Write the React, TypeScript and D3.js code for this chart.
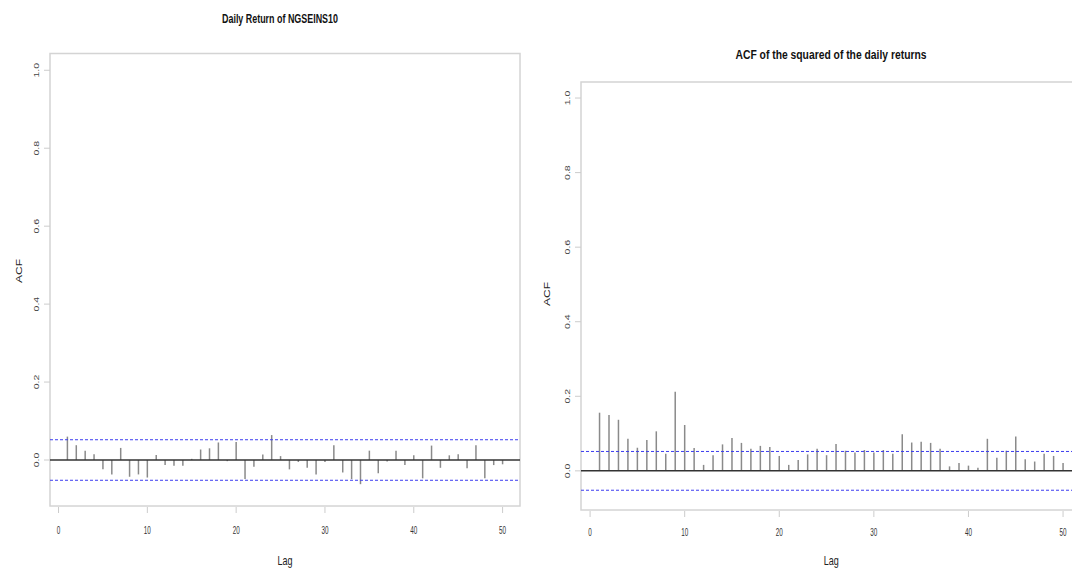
import React from "react";
import * as d3 from "d3";

// lags 1..50 (lag 0 dropped)
const lags = d3.range(1, 51);

const returnsAcf = [
  0.06, 0.038, 0.024, 0.015, -0.024, -0.037, 0.031, -0.043, -0.037, -0.045,
  0.013, -0.013, -0.015, -0.015, 0.003, 0.027, 0.03, 0.045, -0.003, 0.046,
  -0.049, -0.017, 0.014, 0.064, 0.01, -0.024, -0.005, -0.02, -0.037, -0.005,
  0.038, -0.032, -0.049, -0.062, 0.024, -0.034, -0.004, 0.024, -0.013, 0.012,
  -0.047, 0.037, -0.02, 0.012, 0.015, -0.021, 0.038, -0.047, -0.013, -0.011,
];

const squaredAcf = [
  0.156, 0.15, 0.137, 0.086, 0.062, 0.083, 0.106, 0.046, 0.212, 0.123,
  0.061, 0.016, 0.042, 0.071, 0.088, 0.075, 0.059, 0.067, 0.064, 0.04,
  0.016, 0.029, 0.044, 0.059, 0.042, 0.072, 0.054, 0.049, 0.056, 0.049,
  0.056, 0.046, 0.098, 0.076, 0.078, 0.075, 0.059, 0.012, 0.021, 0.014,
  0.008, 0.086, 0.035, 0.054, 0.092, 0.031, 0.025, 0.046, 0.04, 0.021,
];

const yTicks = [0, 0.2, 0.4, 0.6, 0.8, 1.0];
const xTicks = [0, 10, 20, 30, 40, 50];
const confLimit = 0.052;

const FONT = "'Liberation Sans', Arial, sans-serif";

type PanelProps = {
  title: string;
  titleX: number;
  titleY: number;
  titleWidth: number;
  values: number[];
  left: number;
  right: number;
  top: number;
  bottom: number;
  yMin: number;
  tickLabelY: number;
  lagY: number;
  acfX: number;
  acfY: number;
  yLabelX: number;
};

const Panel = (p: PanelProps) => {
  const x = d3.scaleLinear().domain([-0.96, 51.96]).range([p.left, p.right]);
  const y = d3.scaleLinear().domain([p.yMin, 1.043]).range([p.bottom, p.top]);
  const cx = (p.left + p.right) / 2;
  return (
    <g>
      <text
        x={p.titleX}
        y={p.titleY}
        textAnchor="middle"
        fontFamily={FONT}
        fontWeight="bold"
        fontSize={13}
        textLength={p.titleWidth}
        lengthAdjust="spacingAndGlyphs"
        fill="#111"
      >
        {p.title}
      </text>
      <rect
        x={p.left}
        y={p.top}
        width={p.right - p.left}
        height={p.bottom - p.top}
        fill="none"
        stroke="#d4d4d4"
        strokeWidth={1.5}
      />
      {yTicks.map((t) => (
        <g key={"y" + t}>
          <line x1={p.left - 6} x2={p.left} y1={y(t)} y2={y(t)} stroke="#ccc" />
          <text
            transform={`translate(${p.yLabelX},${y(t)}) rotate(-90) scale(1,0.75)`}
            textAnchor="middle"
            fontFamily={FONT}
            fontSize={10.5}
            fill="#444"
          >
            {t.toFixed(1)}
          </text>
        </g>
      ))}
      {xTicks.map((t) => (
        <g key={"x" + t}>
          <line x1={x(t)} x2={x(t)} y1={p.bottom + 1} y2={p.bottom + 7} stroke="#ccc" />
          <text
            transform={`translate(${x(t)},${p.tickLabelY}) scale(0.55,1)`}
            textAnchor="middle"
            fontFamily={FONT}
            fontSize={11.5}
            fill="#333"
          >
            {t}
          </text>
        </g>
      ))}
      <text
        transform={`translate(${cx},${p.lagY}) scale(0.75,1)`}
        textAnchor="middle"
        fontFamily={FONT}
        fontSize={12}
        fill="#222"
      >
        Lag
      </text>
      <text
        transform={`translate(${p.acfX},${p.acfY}) rotate(-90) scale(1,0.8)`}
        textAnchor="middle"
        fontFamily={FONT}
        fontSize={12}
        fill="#222"
      >
        ACF
      </text>
      {p.values.map((v, i) => (
        <line
          key={"b" + i}
          x1={x(lags[i])}
          x2={x(lags[i])}
          y1={y(0)}
          y2={y(v)}
          stroke="#8a8a8a"
          strokeWidth={1.5}
        />
      ))}
      <line x1={p.left} x2={p.right} y1={y(0)} y2={y(0)} stroke="#333" strokeWidth={1.5} />
      {[confLimit, -confLimit].map((c) => (
        <line
          key={"c" + c}
          x1={p.left}
          x2={p.right}
          y1={y(c)}
          y2={y(c)}
          stroke="#3c3cf0"
          strokeWidth={1}
          strokeDasharray="3,2"
        />
      ))}
    </g>
  );
};

export default function App() {
  return (
    <svg
      width={1072}
      height={568}
      style={{ position: "absolute", left: 0, top: 0, background: "#fff" }}
    >
      <Panel
        title="Daily Return of NGSEINS10"
        titleX={280}
        titleY={22.5}
        titleWidth={116}
        values={returnsAcf}
        left={50}
        right={520}
        top={53.5}
        bottom={506}
        yMin={-0.118}
        tickLabelY={534}
        lagY={565}
        acfX={22}
        acfY={271}
        yLabelX={39}
      />
      <Panel
        title="ACF of the squared of the daily returns"
        titleX={831}
        titleY={58.5}
        titleWidth={191}
        values={squaredAcf}
        left={581}
        right={1081.6}
        top={82}
        bottom={510}
        yMin={-0.105}
        tickLabelY={536}
        lagY={565}
        acfX={550}
        acfY={294}
        yLabelX={570}
      />
    </svg>
  );
}
